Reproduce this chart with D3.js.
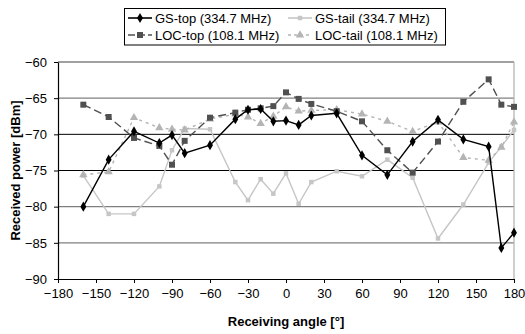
<!DOCTYPE html>
<html>
<head>
<meta charset="utf-8">
<script src="https://cdn.jsdelivr.net/npm/d3@7"></script>
<style>
  html, body { margin: 0; padding: 0; background: #fff; }
  svg { display: block; font-family: "Liberation Sans", Arial, sans-serif; }
</style>
</head>
<body>
<svg id="chart" width="525" height="334"></svg>
<script>
// Receiving angles (degrees) shared by every series
const angles = [-160, -140, -120, -100, -90, -80, -60, -40, -30, -20, -10, 0, 10, 20, 40, 60, 80, 100, 120, 140, 160, 170, 180];

// Received power (dBm) per antenna position
const gsTop   = [-80.0, -73.5, -69.6, -71.2, -70.1, -72.6, -71.5, -67.9, -66.6, -66.5, -68.2, -68.1, -68.7, -67.4, -67.1, -72.9, -75.6, -71.0, -68.0, -70.7, -71.7, -85.7, -83.6];
const gsTail  = [-75.7, -81.0, -81.0, -77.2, -72.2, -69.2, -69.3, -76.6, -79.1, -76.2, -78.2, -75.4, -79.6, -76.6, -75.1, -75.8, -73.5, -76.0, -84.4, -79.7, -73.9, -71.7, -69.4];
const locTop  = [-65.9, -67.6, -70.5, -71.6, -74.2, -70.9, -67.7, -67.0, -66.6, -66.4, -66.1, -64.2, -65.1, -65.8, -66.8, -68.2, -72.2, -75.3, -71.0, -65.5, -62.4, -65.9, -66.2];
const locTail = [-75.6, -75.2, -67.7, -69.1, -69.3, -69.4, -67.9, -67.2, -67.6, -68.5, -67.5, -66.2, -66.8, -66.7, -66.6, -67.2, -68.2, -69.6, -68.3, -73.2, -73.6, -71.8, -68.3];

const seriesNames = ["GS-top (334.7 MHz)", "GS-tail (334.7 MHz)", "LOC-top (108.1 MHz)", "LOC-tail (108.1 MHz)"];
const xTicks = [-180, -150, -120, -90, -60, -30, 0, 30, 60, 90, 120, 150, 180];
const yTicks = [-90, -85, -80, -75, -70, -65, -60];

const svg = d3.select("#chart");
const plotLeft = 58, plotRight = 514, plotTop = 62, plotBottom = 279;

const x = d3.scaleLinear().domain([-180, 180]).range([plotLeft, plotRight]);
const y = d3.scaleLinear().domain([-90, -60]).range([plotBottom, plotTop]);

// horizontal gridlines
const darkGrid = new Set([-70, -75]);
svg.append("g").selectAll("line")
  .data(yTicks.filter(v => v > -90))
  .join("line")
  .attr("x1", plotLeft).attr("x2", plotRight)
  .attr("y1", d => y(d)).attr("y2", d => y(d))
  .attr("stroke", d => darkGrid.has(d) ? "#000" : "#808080")
  .attr("stroke-width", d => darkGrid.has(d) ? 1 : 1.4);

// right border of plot area
svg.append("line")
  .attr("x1", plotRight).attr("x2", plotRight).attr("y1", plotTop).attr("y2", plotBottom)
  .attr("stroke", "#b0b0b0").attr("stroke-width", 1.2);

// axes
const xAxis = d3.axisBottom(x).tickValues(xTicks).tickSize(4).tickSizeOuter(0).tickPadding(6);
const yAxis = d3.axisLeft(y).tickValues(yTicks).tickSize(4).tickSizeOuter(0).tickPadding(7);

const gx = svg.append("g").attr("transform", `translate(0,${plotBottom})`).call(xAxis);
const gy = svg.append("g").attr("transform", `translate(${plotLeft},0)`).call(yAxis);
[gx, gy].forEach(g => {
  g.select(".domain").attr("stroke", "#000").attr("stroke-width", 1.2);
  g.selectAll(".tick line").attr("stroke", "#000");
  g.selectAll(".tick text").attr("font-size", 13).attr("fill", "#000")
    .attr("font-family", "'Liberation Sans', Arial, sans-serif");
});

// axis titles
svg.append("text")
  .attr("x", 286).attr("y", 326)
  .attr("text-anchor", "middle").attr("font-size", 13).attr("font-weight", "bold")
  .text("Receiving angle [°]");
svg.append("text")
  .attr("transform", `translate(20,${(plotTop + plotBottom) / 2}) rotate(-90)`)
  .attr("text-anchor", "middle").attr("font-size", 13).attr("font-weight", "bold")
  .text("Received power [dBm]");

// series styles
const series = [
  { name: seriesNames[0], values: gsTop,   color: "#000000", dash: null,  width: 1.4, marker: "diamond", msize: 30, mcolor: "#000000" },
  { name: seriesNames[1], values: gsTail,  color: "#c6c6c6", dash: null,  width: 1.4, marker: "square",  msize: 20, mcolor: "#c6c6c6" },
  { name: seriesNames[2], values: locTop,  color: "#505050", dash: "8,4", width: 1.4, marker: "square",  msize: 36, mcolor: "#505050" },
  { name: seriesNames[3], values: locTail, color: "#b4b4b4", dash: "3,4", width: 1.4, marker: "triangle",msize: 30, mcolor: "#b4b4b4" }
];
const symbolOf = m => m === "diamond" ? d3.symbolDiamond : (m === "square" ? d3.symbolSquare : d3.symbolTriangle);

const line = d3.line().x(d => x(d[0])).y(d => y(d[1]));
const plot = svg.append("g");
// draw in back-to-front order
[1, 3, 2, 0].forEach(i => {
  const s = series[i];
  const pts = angles.map((a, k) => [a, s.values[k]]);
  plot.append("path")
    .datum(pts)
    .attr("d", line)
    .attr("fill", "none")
    .attr("stroke", s.color)
    .attr("stroke-width", s.width)
    .attr("stroke-dasharray", s.dash);
  plot.append("g").selectAll("path")
    .data(pts)
    .join("path")
    .attr("transform", d => `translate(${x(d[0])},${y(d[1])})`)
    .attr("d", d3.symbol().type(symbolOf(s.marker)).size(s.msize))
    .attr("fill", s.mcolor);
});

// legend
const lg = svg.append("g");
lg.append("rect")
  .attr("x", 124.5).attr("y", 8.5).attr("width", 321).attr("height", 36.5)
  .attr("fill", "#fff").attr("stroke", "#000").attr("stroke-width", 1);
const legendPos = [
  { lx: 128, ty: 18 }, { lx: 288, ty: 18 },
  { lx: 128, ty: 35 }, { lx: 288, ty: 35 }
];
series.forEach((s, i) => {
  const p = legendPos[i];
  lg.append("line")
    .attr("x1", p.lx).attr("x2", p.lx + 24)
    .attr("y1", p.ty).attr("y2", p.ty)
    .attr("stroke", s.color).attr("stroke-width", s.width + 0.2)
    .attr("stroke-dasharray", s.dash ? (i === 2 ? "7,3" : "3,3") : null);
  lg.append("path")
    .attr("transform", `translate(${p.lx + 12},${p.ty})`)
    .attr("d", d3.symbol().type(symbolOf(s.marker)).size(s.msize))
    .attr("fill", s.mcolor);
  lg.append("text")
    .attr("x", p.lx + 27).attr("y", p.ty + 4.6)
    .attr("font-size", 13).attr("fill", "#000")
    .text(s.name);
});
</script>
</body>
</html>
